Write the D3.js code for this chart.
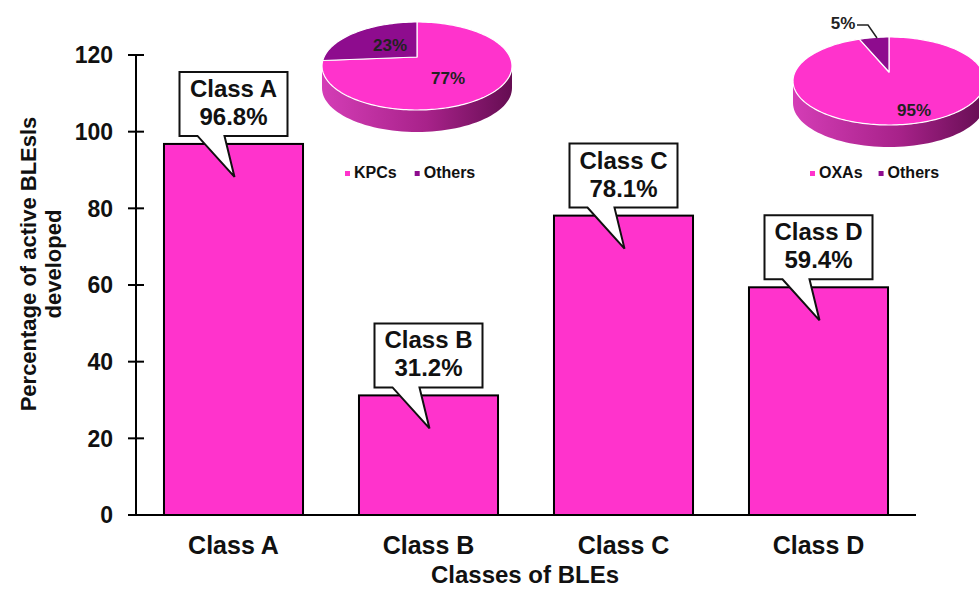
<!DOCTYPE html>
<html>
<head>
<meta charset="utf-8">
<script src="https://cdn.jsdelivr.net/npm/d3@7"></script>
<style>
  html, body { margin: 0; padding: 0; background: #fff; }
  svg { display: block; font-family: "Liberation Sans", Arial, sans-serif; }
</style>
</head>
<body>
<svg id="chart" width="979" height="590"></svg>
<script>
// ---- data ----
const categories = ["Class A", "Class B", "Class C", "Class D"];
const values = [96.8, 31.2, 78.1, 59.4];
const valueLabels = ["96.8%", "31.2%", "78.1%", "59.4%"];
const yTicks = [0, 20, 40, 60, 80, 100, 120];
const yTitleLines = ["Percentage of active BLEsls", "developed"];
const xTitle = "Classes of BLEs";

const pie1Labels = ["KPCs", "Others"];
const pie1Values = [77, 23];
const pie2Labels = ["OXAs", "Others"];
const pie2Values = [95, 5];

// ---- styles ----
const PINK = "#FF33CC";
const PURPLE = "#8E0C8E";

const svg = d3.select("#chart");

const defs = svg.append("defs");
const grad = defs.append("linearGradient").attr("id", "sideGrad")
  .attr("x1", "0%").attr("x2", "100%").attr("y1", "0%").attr("y2", "0%");
grad.append("stop").attr("offset", "0%").attr("stop-color", "#D43DB6");
grad.append("stop").attr("offset", "55%").attr("stop-color", "#A8228A");
grad.append("stop").attr("offset", "100%").attr("stop-color", "#650D52");

// ---- scales ----
const x = d3.scaleBand().domain(categories).range([136, 916])
  .paddingInner(0.287).paddingOuter(0.1435);
const y = d3.scaleLinear().domain([0, 120]).range([515, 55]);

// ---- bars ----
svg.append("g").selectAll("rect").data(values).join("rect")
  .attr("x", (d, i) => x(categories[i]))
  .attr("y", d => y(d))
  .attr("width", x.bandwidth())
  .attr("height", d => y(0) - y(d))
  .attr("fill", PINK)
  .attr("stroke", "#000")
  .attr("stroke-width", 2);

// ---- axes ----
const yAxis = svg.append("g");
yAxis.append("line").attr("x1", 136).attr("x2", 136).attr("y1", y(120)).attr("y2", y(0))
  .attr("stroke", "#000").attr("stroke-width", 2);
yAxis.selectAll("line.tick").data(yTicks).join("line").attr("class", "tick")
  .attr("x1", 128).attr("x2", 144).attr("y1", d => y(d)).attr("y2", d => y(d))
  .attr("stroke", "#000").attr("stroke-width", 2);
yAxis.selectAll("text").data(yTicks).join("text")
  .attr("x", 113).attr("y", d => y(d)).attr("dy", "0.36em")
  .attr("text-anchor", "end").attr("font-size", 23).attr("font-weight", "bold")
  .attr("fill", "#111").text(d => d);

svg.append("line").attr("x1", 128).attr("x2", 916).attr("y1", y(0)).attr("y2", y(0))
  .attr("stroke", "#000").attr("stroke-width", 2);

svg.append("g").selectAll("text").data(categories).join("text")
  .attr("x", d => x(d) + x.bandwidth() / 2).attr("y", 554)
  .attr("text-anchor", "middle").attr("font-size", 25).attr("font-weight", "bold")
  .attr("fill", "#111").text(d => d);

svg.append("text").attr("x", 525).attr("y", 583)
  .attr("text-anchor", "middle").attr("font-size", 24).attr("font-weight", "bold")
  .attr("fill", "#111").text(xTitle);

const yt = svg.append("g").attr("transform", "translate(0,264) rotate(-90)");
yt.selectAll("text").data(yTitleLines).join("text")
  .attr("x", 0).attr("y", (d, i) => 36 + i * 25)
  .attr("text-anchor", "middle").attr("font-size", 22).attr("font-weight", "bold")
  .attr("fill", "#111").text(d => d);

// ---- callouts ----
const cw = 108;
const callouts = svg.append("g").selectAll("g").data(values).join("g");
callouts.append("path")
  .attr("d", (d, i) => {
    const cx = x(categories[i]) + x.bandwidth() / 2;
    const top = y(d) - 72, bot = y(d) - 8, tip = y(d) + 33;
    const l = cx - cw / 2, r = cx + cw / 2;
    return `M${l},${top}H${r}V${bot}H${cx - 9}L${cx + 1},${tip}L${cx - 36},${bot}H${l}Z`;
  })
  .attr("fill", "#fff").attr("stroke", "#111").attr("stroke-width", 2)
  .attr("stroke-linejoin", "miter");
callouts.append("text")
  .attr("x", (d, i) => x(categories[i]) + x.bandwidth() / 2)
  .attr("y", d => y(d) - 47)
  .attr("text-anchor", "middle").attr("font-size", 24).attr("font-weight", "bold")
  .attr("fill", "#111").text((d, i) => categories[i]);
callouts.append("text")
  .attr("x", (d, i) => x(categories[i]) + x.bandwidth() / 2)
  .attr("y", d => y(d) - 19)
  .attr("text-anchor", "middle").attr("font-size", 24).attr("font-weight", "bold")
  .attr("fill", "#111").text((d, i) => valueLabels[i]);

// ---- 3D pies ----
function pie3d(cfg) {
  const { cx, cy, rx, ry, depth, lift, labels, vals, colors, labelPos, legend } = cfg;
  const g = svg.append("g");
  const P = a => [cx + rx * Math.sin(a), cy - ry * Math.cos(a)];
  const mx = cx, my = cy - lift;
  const side = [];
  for (let k = 0; k <= 60; k++) { const a = Math.PI / 2 + Math.PI * k / 60; side.push(P(a)); }
  const sideBack = side.slice().reverse().map(p => [p[0], p[1] + depth]);
  g.append("path")
    .attr("d", "M" + side.map(p => p.join(",")).join("L") + "L" + sideBack.map(p => p.join(",")).join("L") + "Z")
    .attr("fill", "url(#sideGrad)");
  const arcs = d3.pie().sort(null)(vals);
  g.selectAll("path.slice").data(arcs).join("path").attr("class", "slice")
    .attr("d", d => {
      const pts = [];
      const n = Math.max(4, Math.ceil((d.endAngle - d.startAngle) / 0.03));
      for (let k = 0; k <= n; k++) pts.push(P(d.startAngle + (d.endAngle - d.startAngle) * k / n));
      return `M${mx},${my}L` + pts.map(p => p.join(",")).join("L") + "Z";
    })
    .attr("fill", (d, i) => colors[i])
    .attr("stroke", "#fff").attr("stroke-width", 1.2).attr("stroke-linejoin", "round");
  g.selectAll("text.pl").data(arcs).join("text").attr("class", "pl")
    .attr("x", (d, i) => cx + labelPos[i][0]).attr("y", (d, i) => cy + labelPos[i][1])
    .attr("text-anchor", "middle").attr("dy", "0.36em")
    .attr("font-size", 17).attr("font-weight", "bold").attr("fill", "#222")
    .text(d => d.data + "%");
  const lg = g.append("g").attr("transform", `translate(${legend[0]},${legend[1]})`);
  let off = 0;
  labels.forEach((lab, i) => {
    lg.append("rect").attr("x", off).attr("y", -7).attr("width", 5).attr("height", 5).attr("fill", colors[i]);
    const t = lg.append("text").attr("x", off + 9).attr("y", 0)
      .attr("font-size", 16).attr("font-weight", "bold").attr("fill", "#111").text(lab);
    off += t.node().getComputedTextLength() + 9 + legend[2];
  });
  return g;
}

pie3d({ cx: 417, cy: 66, rx: 95, ry: 44, depth: 22, lift: 9,
  labels: pie1Labels, vals: pie1Values, colors: [PINK, PURPLE],
  labelPos: [[31, 12], [-27, -21]], legend: [345, 178, 18] });

const p2 = pie3d({ cx: 889, cy: 81, rx: 96, ry: 44, depth: 22, lift: 9,
  labels: pie2Labels, vals: pie2Values, colors: [PINK, PURPLE],
  labelPos: [[25, 29], [-46, -58]], legend: [810, 178, 16] });
p2.append("path").attr("d", "M857,25H868L877,38")
  .attr("fill", "none").attr("stroke", "#222").attr("stroke-width", 1.5);
</script>
</body>
</html>
